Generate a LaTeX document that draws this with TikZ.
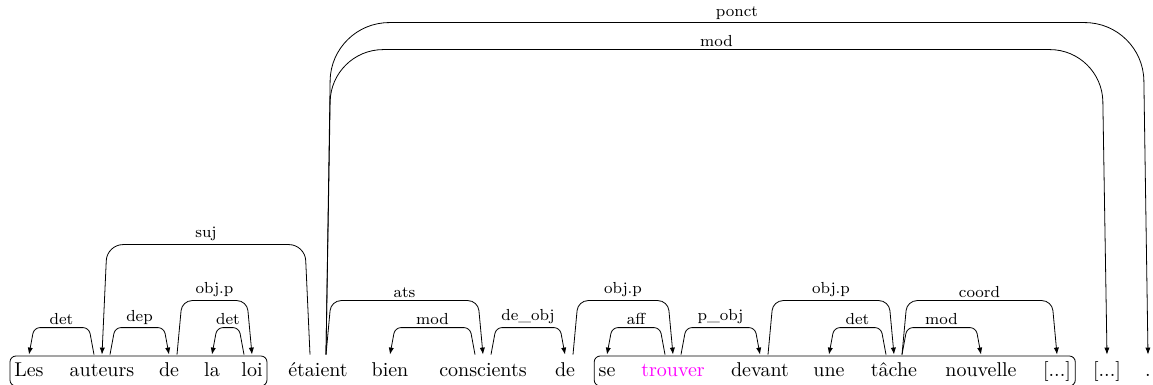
\documentclass[tikz,border=0pt]{standalone}
\usepackage{tikz}
\usetikzlibrary{arrows.meta,calc,fit}
\definecolor{verbcol}{RGB}{255,0,255}

\begin{document}
\begin{tikzpicture}[x=0.5pt,y=-0.5pt]
    \tikzstyle{word}=[anchor=base, inner xsep=0pt, inner ysep=3pt, text height=7.5pt, text depth=2.5pt]
    \tikzstyle{group}=[draw, rounded corners=3pt, inner xsep=2pt, inner ysep=-0.7pt]
    \tikzstyle{lbl}=[font=\footnotesize, above, inner sep=1.5pt]
    \tikzset{dep/.style 2 args={draw, -{Latex[length=3.5pt,width=2.6pt]}, rounded corners=#2,
        to path={-- ($(\tikztostart)!2.5pt!(\tikztotarget)+(0,-#1)$)
                 -- ($(\tikztotarget)!2.5pt!(\tikztostart)+(0,-#1)$) \tikztonodes
                 -- (\tikztotarget)}}}

    \useasboundingbox (0,0) rectangle (1153,385);

    \node[word] (les)        at (29,376)   {Les};
    \node[word] (auteurs)    at (102,376)  {auteurs};
    \node[word] (de1)        at (169,376)  {de};
    \node[word] (la)         at (212,376)  {la};
    \node[word] (loi)        at (252,376)  {loi};
    \node[word] (etaient)    at (318,376)  {étaient};
    \node[word] (bien)       at (390,376)  {bien};
    \node[word] (conscients) at (483,376)  {conscients};
    \node[word] (de2)        at (565,376)  {de};
    \node[word] (se)         at (607,376)  {se};
    \node[word] (trouver)    at (673,376)  {\textcolor{verbcol}{trouver}};
    \node[word] (devant)     at (760,376)  {devant};
    \node[word] (une)        at (829,376)  {une};
    \node[word] (tache)      at (894,376)  {tâche};
    \node[word] (nouvelle)   at (981,376)  {nouvelle};
    \node[word] (etc1)       at (1057,376) {[...]};
    \node[word] (etc2)       at (1107,376) {[...]};
    \node[word] (point)      at (1148,376) {.};

    \node[group, fit=(les)(loi)] (np) {};
    \node[group, fit=(se)(etc1)] (inf) {};

    \path ([xshift=-4pt]auteurs.north)    edge[dep={27}{3pt}]   node[lbl] {det}      (les.north)
          ([xshift=4pt]auteurs.north)     edge[dep={27}{3pt}]   node[lbl] {dep}      (de1.north)
          ([xshift=4pt]de1.north)         edge[dep={54}{5pt}]   node[lbl] {obj.p}    (loi.north)
          ([xshift=-4pt]loi.north)        edge[dep={27}{3pt}]   node[lbl] {det}      (la.north)
          ([xshift=-4pt]etaient.north)    edge[dep={110}{8pt}]  node[lbl] {suj}      (auteurs.north)
          ([xshift=4pt]etaient.north)     edge[dep={54}{5pt}]   node[lbl] {ats}      (conscients.north)
          ([xshift=4pt]etaient.north)     edge[dep={305}{26pt}] node[lbl] {mod}      (etc2.north)
          ([xshift=4pt]etaient.north)     edge[dep={332}{29pt}] node[lbl] {ponct}    (point.north)
          ([xshift=-4pt]conscients.north) edge[dep={27}{3pt}]   node[lbl] {mod}      (bien.north)
          ([xshift=4pt]conscients.north)  edge[dep={27}{3pt}]   node[lbl] {de\_obj}  (de2.north)
          ([xshift=4pt]de2.north)         edge[dep={54}{5pt}]   node[lbl] {obj.p}    (trouver.north)
          ([xshift=-4pt]trouver.north)    edge[dep={27}{3pt}]   node[lbl] {aff}      (se.north)
          ([xshift=4pt]trouver.north)     edge[dep={27}{3pt}]   node[lbl] {p\_obj}   (devant.north)
          ([xshift=4pt]devant.north)      edge[dep={54}{5pt}]   node[lbl] {obj.p}    (tache.north)
          ([xshift=-4pt]tache.north)      edge[dep={27}{3pt}]   node[lbl] {det}      (une.north)
          ([xshift=4pt]tache.north)       edge[dep={54}{5pt}]   node[lbl] {coord}    (etc1.north)
          ([xshift=4pt]tache.north)       edge[dep={27}{3pt}]   node[lbl] {mod}      (nouvelle.north);
\end{tikzpicture}
\end{document}
